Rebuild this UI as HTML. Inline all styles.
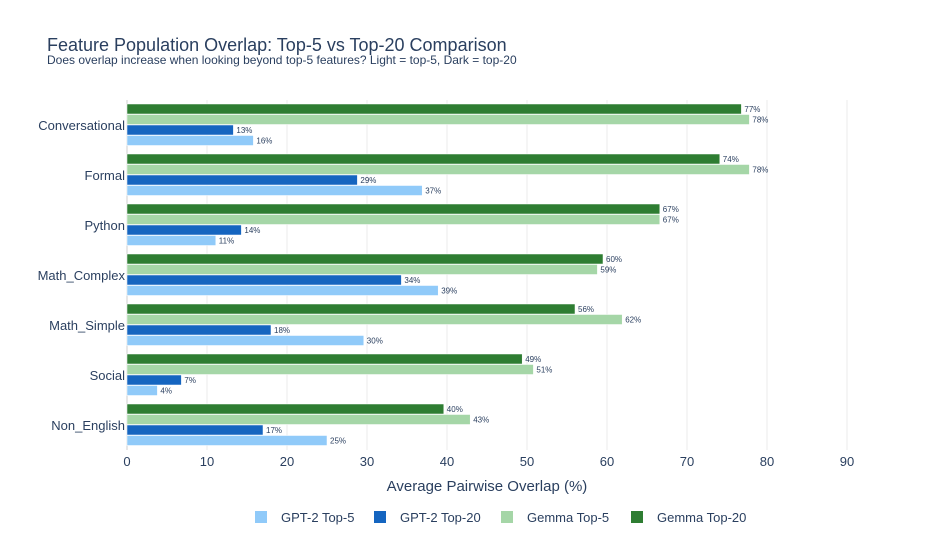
<!DOCTYPE html>
<html><head><meta charset="utf-8"><style>
body{margin:0;background:#fff;font-family:"Liberation Sans",Arial,sans-serif;}
svg text{font-family:"Liberation Sans",Arial,sans-serif;}
</style></head><body>
<svg id="chart" width="950" height="549">
<text x="47" y="51" font-size="18" fill="#2a3f5f">Feature Population Overlap: Top-5 vs Top-20 Comparison</text>
<text x="47" y="64" font-size="12" fill="#2a3f5f">Does overlap increase when looking beyond top-5 features? Light = top-5, Dark = top-20</text>
<g id="grid"></g><g id="bars"></g><g id="labels"></g><g id="axes"></g>
<text x="487" y="491" font-size="15" fill="#2a3f5f" text-anchor="middle">Average Pairwise Overlap (%)</text>
<g id="legend"></g>
</svg>
<script>
const categories=["Conversational","Formal","Python","Math_Complex","Math_Simple","Social","Non_English"];
const seriesNames=["Gemma Top-20","Gemma Top-5","GPT-2 Top-20","GPT-2 Top-5"];
const gemma20=[76.8,74.1,66.6,59.5,56.0,49.4,39.6];
const gemma5=[77.8,77.8,66.6,58.8,61.9,50.8,42.9];
const gpt20=[13.3,28.8,14.3,34.3,18.0,6.8,17.0];
const gpt5=[15.8,36.9,11.1,38.9,29.6,3.8,25.0];
const xTicks=[0,10,20,30,40,50,60,70,80,90];
const colors=["#2e7d32","#a5d6a7","#1565c0","#90caf9"];
const ns="http://www.w3.org/2000/svg";
const X0=127,PX=8,TOP=100,BAND=50;
const xs=v=>X0+v*PX;
function mk(t,a,p){const e=document.createElementNS(ns,t);for(const k in a)e.setAttribute(k,a[k]);document.getElementById(p).appendChild(e);return e;}
xTicks.forEach(t=>{
 const l=mk('line',{x1:xs(t),x2:xs(t),y1:TOP,y2:TOP+BAND*categories.length,stroke:t===0?'#cfcfcf':'#ebebeb','stroke-width':1},'grid');
 
 
 const tx=mk('text',{x:xs(t),y:466,'font-size':13,fill:'#2a3f5f','text-anchor':'middle'},'axes');
 tx.textContent=t;
 
 
});
const all=[gemma20,gemma5,gpt20,gpt5];
categories.forEach((c,i)=>{
 const y0=TOP+i*BAND+4;
 const ct=mk('text',{x:125,y:y0+26,'font-size':13,fill:'#2a3f5f','text-anchor':'end'},'axes');
 ct.textContent=c;
 
 
 all.forEach((s,j)=>{
  const y=y0+j*10.5;
  const r=mk('rect',{x:X0,y:y,width:s[i]*PX,height:10,fill:colors[j],stroke:'#fff','stroke-width':0.5},'bars');
  
  
  const t=mk('text',{x:xs(s[i])+3,y:y+8,'font-size':8,fill:'#2a3f5f'},'labels');
  t.textContent=Math.round(s[i])+'%';
  
  
 });
});
const legOrder=[3,2,1,0],legX=[255,374,501,631];
legOrder.forEach((j,k)=>{
 const g=mk('g',{},'legend');
 
 
 const r=document.createElementNS(ns,'rect');
 r.setAttribute('x',legX[k]);r.setAttribute('y',511);r.setAttribute('width',12);r.setAttribute('height',12);r.setAttribute('fill',colors[j]);
 g.appendChild(r);
 const t=document.createElementNS(ns,'text');
 t.setAttribute('x',legX[k]+26);t.setAttribute('y',522);t.setAttribute('font-size',13);t.setAttribute('fill','#2a3f5f');
 t.textContent=seriesNames[j];g.appendChild(t);
});
</script>
</body></html>
